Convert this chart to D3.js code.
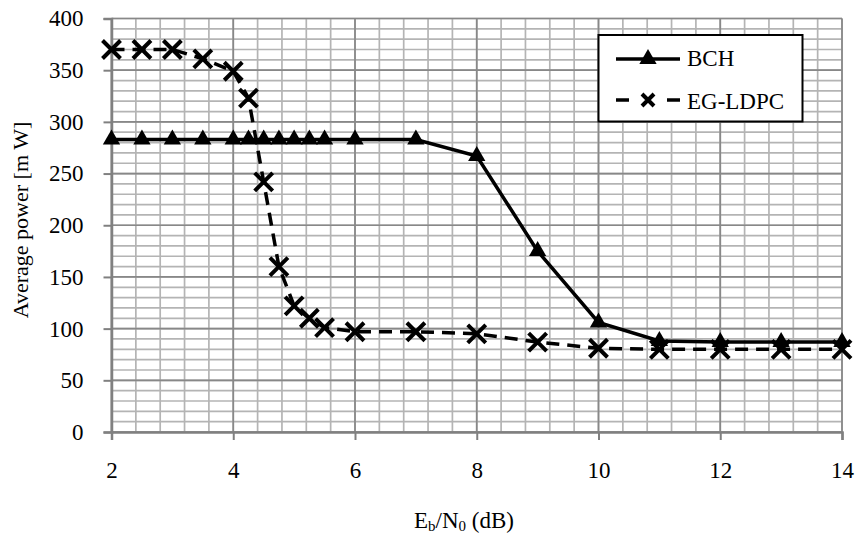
<!DOCTYPE html>
<html>
<head>
<meta charset="utf-8">
<script src="https://cdn.jsdelivr.net/npm/d3@7"></script>
<style>
  html, body { margin: 0; padding: 0; background: #fff; }
</style>
</head>
<body>
<svg id="chart" width="859" height="535"></svg>
<script>
// ---- data ----
const bchX = [2, 2.5, 3, 3.5, 4, 4.25, 4.5, 4.75, 5, 5.25, 5.5, 6, 7, 8, 9, 10, 11, 12, 13, 14];
const bchY = [283, 283, 283, 283, 283, 283, 283, 283, 283, 283, 283, 283, 283, 267, 175, 106, 88, 87, 87, 87];
const ldpcX = [2, 2.5, 3, 3.5, 4, 4.25, 4.5, 4.75, 5, 5.25, 5.5, 6, 7, 8, 9, 10, 11, 12, 13, 14];
const ldpcY = [370, 370, 370, 361, 349, 323, 242, 160, 122, 110, 101, 97, 97, 95, 87, 81, 80, 80, 80, 80];
const xTicks = [2, 4, 6, 8, 10, 12, 14];
const yTicks = [0, 50, 100, 150, 200, 250, 300, 350, 400];
const seriesNames = ["BCH", "EG-LDPC"];

const FONT = "Liberation Serif";
const FS = 23;

// ---- layout ----
const svg = d3.select("#chart");
const x = d3.scaleLinear().domain([2, 14]).range([111.5, 842]);
const y = d3.scaleLinear().domain([0, 400]).range([432, 18.5]);

const grid = svg.append("g");
const xMinor = d3.range(0, 31).map(i => 2 + i * 0.4);
grid.selectAll(".vmin").data(xMinor).join("line")
  .attr("x1", d => x(d)).attr("x2", d => x(d))
  .attr("y1", y(0)).attr("y2", y(400))
  .attr("stroke", "#b4b4b4").attr("stroke-width", 1.7);
const yMinor = d3.range(0, 41).map(i => i * 10);
grid.selectAll(".hmin").data(yMinor).join("line")
  .attr("x1", x(2)).attr("x2", x(14))
  .attr("y1", d => y(d)).attr("y2", d => y(d))
  .attr("stroke", "#b4b4b4").attr("stroke-width", 1.7);
grid.selectAll(".vmaj").data(xTicks).join("line")
  .attr("x1", d => x(d)).attr("x2", d => x(d))
  .attr("y1", y(0)).attr("y2", y(400))
  .attr("stroke", "#888888").attr("stroke-width", 1.7);
grid.selectAll(".hmaj").data(yTicks).join("line")
  .attr("x1", x(2)).attr("x2", x(14))
  .attr("y1", d => y(d)).attr("y2", d => y(d))
  .attr("stroke", "#888888").attr("stroke-width", 1.7);

// axes
const xAxis = d3.axisBottom(x).tickValues(xTicks).tickSize(8).tickPadding(22).tickFormat(d3.format("d"));
const gx = svg.append("g").attr("transform", `translate(0,${y(0)})`).call(xAxis);
gx.select(".domain").attr("stroke", "#808080").attr("stroke-width", 2.5);
gx.selectAll(".tick line").attr("stroke", "#808080").attr("stroke-width", 2);
gx.selectAll(".tick text").style("font-family", FONT).style("font-size", FS + "px").attr("fill", "#000");

const yAxis = d3.axisLeft(y).tickValues(yTicks).tickSize(8).tickPadding(20).tickFormat(d3.format("d"));
const gy = svg.append("g").attr("transform", `translate(${x(2)},0)`).call(yAxis);
gy.select(".domain").attr("stroke", "#808080").attr("stroke-width", 2.5);
gy.selectAll(".tick line").attr("stroke", "#808080").attr("stroke-width", 2);
gy.selectAll(".tick text").style("font-family", FONT).style("font-size", FS + "px").attr("fill", "#000");

// axis titles
const xt = svg.append("text").attr("x", 414).attr("y", 528)
  .style("font-family", FONT).style("font-size", FS + "px").attr("fill", "#000");
xt.append("tspan").text("E");
xt.append("tspan").style("font-size", "15px").attr("dy", 3).text("b");
xt.append("tspan").attr("dy", -3).text("/N");
xt.append("tspan").style("font-size", "15px").attr("dy", 3).text("0");
xt.append("tspan").attr("dy", -3).text(" (dB)");

svg.append("text")
  .attr("transform", `translate(28,220) rotate(-90)`)
  .attr("text-anchor", "middle")
  .style("font-family", FONT).style("font-size", "22px").attr("fill", "#000")
  .text("Average power [m W]");

// series
const line = d3.line().x(d => x(d[0])).y(d => y(d[1]));
const bch = bchX.map((v, i) => [v, bchY[i]]);
const ldpc = ldpcX.map((v, i) => [v, ldpcY[i]]);
const tri = d3.symbol().type(d3.symbolTriangle).size(130);

svg.append("path").datum(bch).attr("d", line)
  .attr("fill", "none").attr("stroke", "#000").attr("stroke-width", 3.5);
svg.selectAll(".tri").data(bch).join("path")
  .attr("d", tri).attr("transform", d => `translate(${x(d[0])},${y(d[1])})`)
  .attr("fill", "#000");

svg.append("path").datum(ldpc).attr("d", line)
  .attr("fill", "none").attr("stroke", "#000").attr("stroke-width", 3.5)
  .attr("stroke-dasharray", "13,8");
const cross = "M-9,-9L9,9M-9,9L9,-9";
svg.selectAll(".crs").data(ldpc).join("path")
  .attr("d", cross).attr("transform", d => `translate(${x(d[0])},${y(d[1])})`)
  .attr("stroke", "#000").attr("stroke-width", 4).attr("fill", "none");

// legend
const lg = svg.append("g");
lg.append("rect").attr("x", 598.5).attr("y", 35).attr("width", 204).attr("height", 86.5)
  .attr("fill", "#fff").attr("stroke", "#000").attr("stroke-width", 2);
lg.append("line").attr("x1", 616).attr("x2", 680).attr("y1", 59).attr("y2", 59)
  .attr("stroke", "#000").attr("stroke-width", 3.5);
lg.append("path").attr("d", tri).attr("transform", "translate(648,59)").attr("fill", "#000");
lg.append("text").attr("x", 687).attr("y", 66)
  .style("font-family", FONT).style("font-size", FS + "px").attr("fill", "#000").text(seriesNames[0]);
lg.append("line").attr("x1", 616).attr("x2", 680).attr("y1", 100).attr("y2", 100)
  .attr("stroke", "#000").attr("stroke-width", 3.5).attr("stroke-dasharray", "13,38");
lg.append("path").attr("d", "M-6,-6L6,6M-6,6L6,-6").attr("transform", "translate(648,100)")
  .attr("stroke", "#000").attr("stroke-width", 4).attr("fill", "none");
lg.append("text").attr("x", 687).attr("y", 109)
  .style("font-family", FONT).style("font-size", FS + "px").attr("fill", "#000").text(seriesNames[1]);
</script>
</body>
</html>
